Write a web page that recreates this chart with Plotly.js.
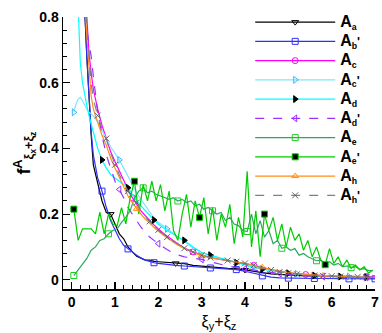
<!DOCTYPE html>
<html>
<head>
<meta charset="utf-8">
<script src="https://cdn.plot.ly/plotly-3.0.1.min.js"></script>
<style>
  html, body { margin: 0; padding: 0; background: #fff; }
  #chart { width: 382px; height: 333px; }
</style>
</head>
<body>
<div id="chart"></div>
<script>
// shared x grid for the smooth curves
const xGrid = [0.05, 0.1, 0.15, 0.2, 0.25, 0.3, 0.35, 0.4, 0.45, 0.5,
  0.6, 0.7, 0.8, 0.9, 1.0, 1.1, 1.2, 1.3, 1.4, 1.5, 1.6, 1.7, 1.8, 1.9, 2.0,
  2.2, 2.4, 2.6, 2.8, 3.0, 3.2, 3.4, 3.6, 3.8, 4.0, 4.2, 4.4, 4.6, 4.8, 5.0,
  5.2, 5.4, 5.6, 5.8, 6.0, 6.2, 6.4, 6.6, 6.8, 7.0];

const yAa = [null, null, null, 1.3, 1.0, 0.83, 0.68, 0.55, 0.44, 0.35,
  0.29, 0.24, 0.205, 0.2, 0.17, 0.14, 0.125, 0.1, 0.085, 0.072, 0.066, 0.06, 0.06, 0.056, 0.055,
  0.053, 0.05, 0.049, 0.044, 0.041, 0.038, 0.037, 0.035, 0.034, 0.03, 0.027, 0.022, 0.018, 0.016, 0.015,
  0.013, 0.012, 0.012, 0.01, 0.01, 0.009, 0.009, 0.008, 0.007, 0.006];
const yAb = [null, null, null, 1.3, 1.0, 0.82, 0.68, 0.56, 0.45, 0.38,
  0.31, 0.27, 0.22, 0.18, 0.15, 0.125, 0.105, 0.094, 0.085, 0.075, 0.066, 0.06, 0.055, 0.052, 0.05,
  0.046, 0.044, 0.042, 0.04, 0.038, 0.036, 0.034, 0.033, 0.031, 0.026, 0.02, 0.012, 0.008, 0.006, 0.005,
  0.005, 0.005, 0.004, 0.004, 0.004, 0.004, 0.003, 0.003, 0.003, 0.003];
const yAc = [null, null, null, 1.3, 1.1, 0.92, 0.8, 0.69, 0.63, 0.58,
  0.52, 0.47, 0.43, 0.39, 0.36, 0.33, 0.3, 0.275, 0.25, 0.23, 0.21, 0.195, 0.18, 0.167, 0.155,
  0.133, 0.114, 0.097, 0.085, 0.075, 0.068, 0.063, 0.058, 0.054, 0.05, 0.044, 0.037, 0.03, 0.025, 0.021,
  0.018, 0.016, 0.014, 0.013, 0.012, 0.011, 0.011, 0.01, 0.01, 0.009];
const yAc2 = [0.51, 0.535, 0.55, 0.555, 0.545, 0.53, 0.52, 0.51, 0.505, 0.5,
  0.48, 0.455, 0.43, 0.405, 0.385, 0.365, 0.34, 0.315, 0.29, 0.265, 0.245, 0.225, 0.205, 0.188, 0.175,
  0.155, 0.135, 0.115, 0.097, 0.083, 0.073, 0.066, 0.06, 0.053, 0.046, 0.04, 0.034, 0.029, 0.025, 0.021,
  0.018, 0.016, 0.014, 0.013, 0.012, 0.011, 0.01, 0.009, 0.008, 0.007];
const yAd = [null, 1.0, 0.8, 0.66, 0.6, 0.56, 0.53, 0.5, 0.47, 0.45,
  0.4, 0.365, 0.34, 0.32, 0.31, 0.3, 0.29, 0.28, 0.26, 0.24, 0.225, 0.21, 0.195, 0.182, 0.17,
  0.15, 0.135, 0.12, 0.1, 0.083, 0.075, 0.067, 0.06, 0.052, 0.045, 0.038, 0.032, 0.028, 0.024, 0.02,
  0.017, 0.014, 0.013, 0.012, 0.011, 0.01, 0.009, 0.008, 0.008, 0.007];
const yAd2 = [null, null, null, 1.3, 1.05, 0.86, 0.76, 0.72, 0.68, 0.62,
  0.51, 0.44, 0.38, 0.34, 0.3, 0.275, 0.25, 0.22, 0.2, 0.18, 0.16, 0.145, 0.13, 0.12, 0.11,
  0.092, 0.078, 0.07, 0.066, 0.062, 0.055, 0.048, 0.042, 0.037, 0.033, 0.029, 0.025, 0.022, 0.019, 0.016,
  0.014, 0.012, 0.011, 0.01, 0.009, 0.008, 0.008, 0.007, 0.007, 0.006];
const yAh = [null, null, null, 1.2, 1.0, 0.86, 0.74, 0.64, 0.56, 0.52,
  0.48, 0.44, 0.41, 0.37, 0.34, 0.31, 0.28, 0.255, 0.235, 0.216, 0.2, 0.185, 0.172, 0.16, 0.148,
  0.128, 0.11, 0.095, 0.083, 0.073, 0.067, 0.062, 0.058, 0.054, 0.05, 0.045, 0.038, 0.032, 0.026, 0.022,
  0.019, 0.016, 0.015, 0.013, 0.012, 0.011, 0.01, 0.009, 0.008, 0.007];
const yAh2 = [null, null, null, 1.25, 1.05, 0.9, 0.77, 0.67, 0.6, 0.55,
  0.5, 0.46, 0.43, 0.385, 0.35, 0.32, 0.295, 0.27, 0.25, 0.235, 0.21, 0.193, 0.178, 0.165, 0.152,
  0.13, 0.112, 0.096, 0.084, 0.075, 0.068, 0.064, 0.059, 0.055, 0.05, 0.044, 0.037, 0.03, 0.024, 0.02,
  0.017, 0.015, 0.013, 0.012, 0.011, 0.01, 0.01, 0.009, 0.008, 0.007];

// noisy green curves
const xNoisy = [0.05, 0.15, 0.25, 0.35, 0.45, 0.55, 0.65, 0.75, 0.85, 0.95,
  1.05, 1.15, 1.25, 1.35, 1.45, 1.55, 1.65, 1.75, 1.85, 1.95,
  2.05, 2.15, 2.25, 2.35, 2.45, 2.55, 2.65, 2.75, 2.85, 2.95,
  3.05, 3.15, 3.25, 3.35, 3.45, 3.55, 3.65, 3.75, 3.85, 3.95,
  4.05, 4.15, 4.25, 4.35, 4.45, 4.55, 4.65, 4.75, 4.85, 4.95,
  5.05, 5.15, 5.25, 5.35, 5.45, 5.55, 5.65, 5.75, 5.85, 5.95,
  6.05, 6.15, 6.25, 6.35, 6.45, 6.55, 6.65, 6.75, 6.85, 6.95];
const yAe = [0.013, 0.03, 0.05, 0.065, 0.09, 0.1, 0.12, 0.125, 0.14, 0.15,
  0.155, 0.175, 0.19, 0.21, 0.25, 0.27, 0.28, 0.265, 0.27, 0.26,
  0.255, 0.25, 0.245, 0.25, 0.24, 0.245, 0.235, 0.24, 0.225, 0.23,
  0.215, 0.22, 0.21, 0.2, 0.205, 0.18, 0.19, 0.17, 0.165, 0.15,
  0.147, 0.2, 0.14, 0.18, 0.13, 0.15, 0.11, 0.12, 0.096, 0.1,
  0.09, 0.095, 0.075, 0.08, 0.07, 0.065, 0.058, 0.06, 0.05, 0.055,
  0.045, 0.05, 0.04, 0.042, 0.037, 0.04, 0.032, 0.034, 0.028, 0.028];
const yAe2 = [0.215, 0.12, 0.155, 0.155, 0.155, 0.14, 0.206, 0.14, 0.2, 0.17,
  0.165, 0.22, 0.17, 0.25, 0.3, 0.2, 0.29, 0.24, 0.3, 0.24,
  0.29, 0.21, 0.27, 0.15, 0.12, 0.2, 0.26, 0.16, 0.24, 0.19,
  0.25, 0.14, 0.22, 0.12, 0.2, 0.16, 0.23, 0.11, 0.19, 0.13,
  0.33, 0.1, 0.21, 0.07, 0.2, 0.15, 0.19, 0.12, 0.17, 0.1,
  0.16, 0.12, 0.14, 0.09, 0.12, 0.07, 0.1, 0.06, 0.046, 0.095,
  0.05, 0.07, 0.04, 0.06, 0.035, 0.045, 0.03, 0.04, 0.02, 0.03];

const bigA = '<span style="font-size:16px">A</span>';
const names = [bigA + '<sub>a</sub>', bigA + "<sub>b</sub>'", bigA + '<sub>c</sub>', bigA + "<sub>c</sub>'",
  bigA + '<sub>d</sub>', bigA + "<sub>d</sub>'", bigA + '<sub>e</sub>', bigA + "<sub>e</sub>'",
  bigA + '<sub>h</sub>', bigA + "<sub>h</sub>'"];

// style of each series; mark = [first x, spacing] of the symbols along the line
const series = [
  {x: xGrid, y: yAa, color: '#000000', dash: 'solid', sym: 'triangle-down-open', mc: '#000000', mark: [0.9, 1.6]},
  {x: xGrid, y: yAb, color: '#2f2fff', dash: 'solid', sym: 'square-open', mc: '#2f2fff', mark: [0.65, 0.63]},
  {x: xGrid, y: yAc, color: '#ff00ff', dash: 'solid', sym: 'circle-open', mc: '#ff00ff', mark: [1.36, 1.37]},
  {x: xGrid, y: yAc2, color: '#7fe6ff', dash: 'solid', sym: 'triangle-right-open', mc: '#33b5ff', mark: [0.05, 1.05]},
  {x: xGrid, y: yAd, color: '#00ffff', dash: 'solid', sym: 'triangle-right', mc: '#000000', mark: [0.72, 0.6]},
  {x: xGrid, y: yAd2, color: '#9b30ff', dash: 'dash', sym: 'triangle-left-open', mc: '#9b30ff', mark: [1.12, 0.94]},
  {x: xNoisy, y: yAe, color: '#2aa860', dash: 'solid', sym: 'square-open', mc: '#22cc22', mark: [0.05, 0.8]},
  {x: xNoisy, y: yAe2, color: '#00cc00', dash: 'solid', sym: 'square', mc: '#000000', mark: [0.05, 1.45]},
  {x: xGrid, y: yAh, color: '#ff8c1a', dash: 'solid', sym: 'triangle-up-open', mc: '#ff8c1a', mark: [1.5, 1.46]},
  {x: xGrid, y: yAh2, color: '#808080', dash: 'dash', sym: 'x-thin-open', mc: '#666666', mark: [0.3, 0.25]}
];

function markIdx(xs, ys, start, step) {
  const idx = [];
  for (let t = start; t <= 7.01; t += step) {
    let best = -1, bd = 1e9;
    xs.forEach((x, i) => {
      if (ys[i] != null && Math.abs(x - t) < bd) { bd = Math.abs(x - t); best = i; }
    });
    if (best >= 0 && bd < step / 2 && !idx.includes(best)) idx.push(best);
  }
  return idx;
}

const traces = [];
series.forEach((s, k) => {
  // the line itself
  traces.push({
    x: s.x, y: s.y, type: 'scatter', mode: 'lines', showlegend: false,
    hoverinfo: 'skip',
    line: {color: s.color, width: 1.2, dash: s.dash}
  });
  // symbols on a subset of the points, isolated so no segment is drawn
  const mx = [], my = [];
  markIdx(s.x, s.y, s.mark[0], s.mark[1]).forEach(i => {
    mx.push(s.x[i], null);
    my.push(s.y[i], null);
  });
  traces.push({
    x: mx, y: my, type: 'scatter', mode: 'lines+markers', name: names[k],
    connectgaps: false,
    line: {color: s.color, width: 1.2, dash: s.dash},
    marker: {symbol: s.sym, size: 6, color: s.mc,
      line: {color: s.sym === 'square' ? '#00cc00' : s.mc, width: 1}}
  });
});

const tickFont = {family: 'Liberation Sans, Arial, sans-serif', size: 14, color: '#000', weight: 'bold'};

const layout = {
  width: 382, height: 333,
  margin: {l: 63, r: 7, t: 10, b: 44},
  paper_bgcolor: '#fff', plot_bgcolor: '#fff',
  showlegend: true,
  legend: {
    x: 0.6, y: 1.035, xanchor: 'left', yanchor: 'top',
    bgcolor: 'rgba(0,0,0,0)', borderwidth: 0,
    itemwidth: 80, maxheight: 320,
    font: {family: 'Liberation Sans, Arial, sans-serif', size: 12.5, color: '#000', weight: 'bold'}
  },
  xaxis: {
    range: [-0.2, 7], showgrid: false, zeroline: false,
    showline: true, linecolor: '#000', linewidth: 1.5,
    ticks: 'inside', ticklen: 7, tickcolor: '#000', tickwidth: 1.2,
    dtick: 1, tick0: 0, tickfont: tickFont,
    minor: {ticks: 'inside', dtick: 0.2, ticklen: 4, tickcolor: '#000', tickwidth: 1},
    title: {text: 'ξ<sub>y</sub>+ξ<sub>z</sub>', standoff: 6,
      font: {family: 'Liberation Sans, Arial, sans-serif', size: 16, color: '#000'}}
  },
  yaxis: {
    range: [-0.028, 0.8], showgrid: false, zeroline: false,
    showline: true, linecolor: '#000', linewidth: 1.5,
    ticks: 'inside', ticklen: 7, tickcolor: '#000', tickwidth: 1.2,
    dtick: 0.2, tick0: 0, tickfont: tickFont,
    minor: {ticks: 'inside', dtick: 0.04, ticklen: 4, tickcolor: '#000', tickwidth: 1},
    title: {text: 'f<sup>A</sup><sub>ξ<sub>x</sub>+ξ<sub>z</sub></sub>', standoff: 4,
      font: {family: 'Liberation Sans, Arial, sans-serif', size: 18, color: '#000', weight: 'bold'}}
  }
};

Plotly.newPlot('chart', traces, layout, {displayModeBar: false, staticPlot: true});
</script>
</body>
</html>
